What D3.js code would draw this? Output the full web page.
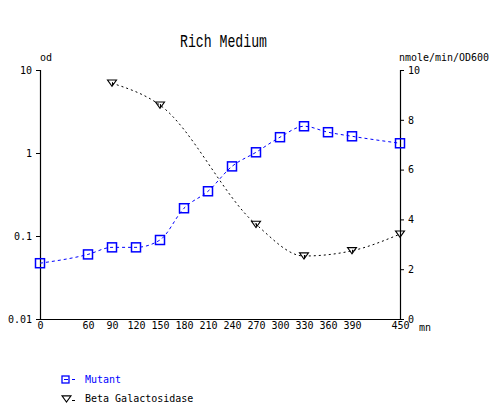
<!DOCTYPE html>
<html><head><meta charset="utf-8">
<script src="https://cdn.jsdelivr.net/npm/d3@7"></script>
<style>body{margin:0;background:#fff}svg{display:block}</style>
</head><body>
<script>
const xTicks = [0, 60, 90, 120, 150, 180, 210, 240, 270, 300, 330, 360, 390, 450];
const leftTicks = [0.01, 0.1, 1, 10];
const leftTickLabels = ["0.01", "0.1", "1", "10"];
const rightTicks = [0, 2, 4, 6, 8, 10];
const mutantX = [0, 60, 90, 120, 150, 180, 210, 240, 270, 300, 330, 360, 390, 450];
const mutantY = [0.047, 0.060, 0.073, 0.073, 0.0895, 0.216, 0.346, 0.69, 1.02, 1.55, 2.10, 1.78, 1.59, 1.31];
const betaX = [90, 150, 270, 330, 390, 450];
const betaY = [9.47, 8.59, 3.80, 2.53, 2.74, 3.41];

const W = 490, H = 405;
const svg = d3.select("body").append("svg").attr("width", W).attr("height", H);
const font = "'DejaVu Sans Mono', monospace";

const x = d3.scaleLinear().domain([0, 450]).range([40, 400]);
const yL = d3.scaleLog().domain([0.01, 10]).range([319, 70]);
const yR = d3.scaleLinear().domain([0, 10]).range([319, 70]);

// title
svg.append("text").attr("x", 223.5).attr("y", 47).attr("text-anchor", "middle")
  .attr("font-family", "'Liberation Mono', monospace").attr("font-size", 18)
  .attr("textLength", 87).attr("lengthAdjust", "spacingAndGlyphs")
  .text("Rich Medium");

// axes
const axL = svg.append("g").attr("transform", "translate(40,0)")
  .call(d3.axisLeft(yL).tickValues(leftTicks).tickFormat((d, i) => leftTickLabels[i]).tickSizeOuter(0).tickSize(4).tickPadding(4));
const axR = svg.append("g").attr("transform", "translate(400,0)")
  .call(d3.axisRight(yR).tickValues(rightTicks).tickFormat(d3.format("d")).tickSizeOuter(0).tickSize(4).tickPadding(4));
const axB = svg.append("g").attr("transform", "translate(0,319)")
  .call(d3.axisBottom(x).tickValues(xTicks).tickFormat(d3.format("d")).tickSizeOuter(0).tickSize(0).tickPadding(3));
[axL, axR, axB].forEach(a => {
  a.selectAll("path.domain").attr("stroke", "#000").attr("stroke-width", 1.2);
  a.selectAll(".tick line").attr("stroke", "#000");
  a.selectAll("text").attr("font-family", font).attr("font-size", 10).attr("fill", "#000");
});

svg.append("text").attr("x", 40).attr("y", 61).attr("font-family", font).attr("font-size", 10).text("od");
svg.append("text").attr("x", 399).attr("y", 61).attr("font-family", font).attr("font-size", 10)
  .attr("textLength", 90).attr("lengthAdjust", "spacingAndGlyphs").text("nmole/min/OD600");
svg.append("text").attr("x", 419).attr("y", 331).attr("font-family", font).attr("font-size", 10).text("mn");

// lines
const mData = mutantX.map((v, i) => [v, mutantY[i]]);
const bData = betaX.map((v, i) => [v, betaY[i]]);
svg.append("path").datum(mData)
  .attr("d", d3.line().x(d => x(d[0])).y(d => yL(d[1])).curve(d3.curveMonotoneX))
  .attr("fill", "none").attr("stroke", "#0000ff").attr("stroke-width", 1).attr("stroke-dasharray", "3,3");
svg.append("path").datum(bData)
  .attr("d", d3.line().x(d => x(d[0])).y(d => yR(d[1])).curve(d3.curveMonotoneX))
  .attr("fill", "none").attr("stroke", "#000").attr("stroke-width", 1).attr("stroke-dasharray", "2,3");

// markers
svg.selectAll("rect.m").data(mData).enter().append("rect").attr("class", "m")
  .attr("x", d => x(d[0]) - 4.5).attr("y", d => yL(d[1]) - 4.5)
  .attr("width", 9).attr("height", 9).attr("fill", "none").attr("stroke", "#0000ff").attr("stroke-width", 1.5);
const tri = (cx, cy, s) => `M${cx - s},${cy - s * 0.7}L${cx + s},${cy - s * 0.7}L${cx},${cy + s * 0.7}Z`;
svg.selectAll("path.b").data(bData).enter().append("path").attr("class", "b")
  .attr("d", d => tri(x(d[0]), yR(d[1]), 4.5)).attr("fill", "none").attr("stroke", "#000").attr("stroke-width", 1.1);
svg.selectAll("line.b").data(bData).enter().append("line").attr("class", "b")
  .attr("x1", d => x(d[0]) + 0.5).attr("x2", d => x(d[0]) + 0.5)
  .attr("y1", d => yR(d[1]) - 1).attr("y2", d => yR(d[1]) + 2).attr("stroke", "#000");

// legend
svg.append("rect").attr("x", 62).attr("y", 376).attr("width", 7).attr("height", 7)
  .attr("fill", "none").attr("stroke", "#0000ff").attr("stroke-width", 1.3);
svg.append("line").attr("x1", 64).attr("x2", 68).attr("y1", 379.5).attr("y2", 379.5).attr("stroke", "#0000ff");
svg.append("line").attr("x1", 72).attr("x2", 75).attr("y1", 379.5).attr("y2", 379.5).attr("stroke", "#0000ff");
svg.append("text").attr("x", 85).attr("y", 383).attr("font-family", font).attr("font-size", 10).attr("fill", "#0000ff").text("Mutant");
svg.append("path").attr("d", tri(66.5, 399, 4.5)).attr("fill", "none").attr("stroke", "#000").attr("stroke-width", 1.1);
svg.append("line").attr("x1", 72).attr("x2", 75).attr("y1", 400.5).attr("y2", 400.5).attr("stroke", "#000");
svg.append("text").attr("x", 85).attr("y", 402).attr("font-family", font).attr("font-size", 10).attr("fill", "#000").text("Beta Galactosidase");
</script>
</body></html>
